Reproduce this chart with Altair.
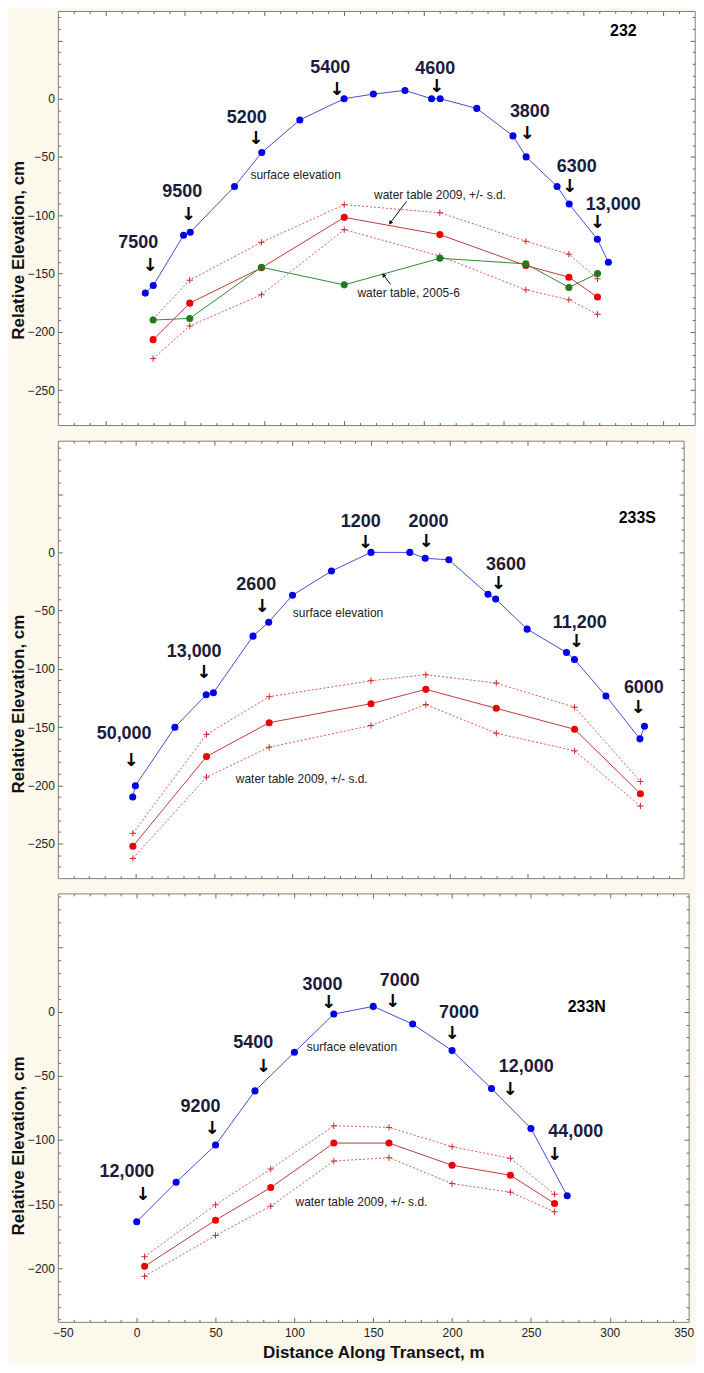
import altair as alt
import pandas as pd

# ---------------- Panel 232 ----------------
p1_surf_x = [25.1, 30.1, 49.1, 53.3, 81.1, 98.2, 122.1, 149.9, 168.3, 188.1, 204.8, 210.2, 233.2, 255.9, 264.2, 283.6, 291.2, 308.9, 315.8]
p1_surf_y = [-166.8, -160.2, -117.2, -114.6, -75.3, -46.2, -18.2, 0.0, 4.0, 7.1, 0.0, 0.0, -8.3, -31.9, -49.9, -75.3, -90.4, -120.6, -140.3]
p1_wt_x = [30, 53, 98, 150, 210, 264, 291, 309]
p1_wt_y = [-206.7, -175.4, -145.1, -101.8, -116.6, -143.1, -153.1, -170.2]
p1_wt_hi = [-189.0, -155.7, -123.2, -90.9, -97.8, -122.3, -133.4, -154.5]
p1_wt_lo = [-223.0, -195.0, -168.2, -112.3, -135.0, -164.0, -172.5, -185.0]
p1_wt06_y = [-189.9, -188.5, -144.6, -159.7, -136.9, -141.7, -161.9, -150.0]
p1_num_t = ["7500", "9500", "5200", "5400", "4600", "3800", "6300", "13,000"]
p1_num_x = [20.7, 48.3, 88.8, 141.2, 207.1, 266.5, 296.0, 318.9]
p1_num_y = [-123.8, -80.4, -16.8, 26.3, 25.9, -11.4, -58.2, -91.2]
p1_arr_x = [28.0, 52.0, 94.4, 145.3, 207.9, 264.7, 291.4, 308.9]
p1_arr_y = [-142.4, -98.8, -33.4, 8.3, 10.9, -29.5, -74.7, -106.1]
p1_lab_t = ["surface elevation", "water table 2009, +/- s.d.", "water table, 2005-6"]
p1_lab_x = [91.1, 168.7, 158.3]
p1_lab_y = [-65.3, -82.4, -166.8]
p1_call_x = [189.1, 179.1]
p1_call_y = [-88.1, -159.4]
p1_call_x2 = [179.1, 174.9]
p1_call_y2 = [-106.1, -151.7]
p1_call_ang = [217, 323]

# ---------------- Panel 233S ----------------
p2_surf_x = [-2.1, -0.4, 24.8, 44.8, 49.4, 74.7, 84.7, 99.9, 124.8, 150.0, 174.8, 184.6, 199.7, 224.7, 229.6, 249.7, 274.8, 279.9, 300.0, 321.7, 324.6]
p2_surf_y = [-210.1, -200.3, -150.2, -122.2, -120.5, -71.9, -59.9, -36.8, -16.0, 0.0, 0.0, -5.1, -6.3, -36.0, -40.0, -65.9, -85.9, -91.9, -123.3, -160.1, -149.3]
p2_wt_x = [-2, 45, 85, 150, 185, 230, 280, 322]
p2_wt_y = [-252.3, -175.3, -146.2, -129.9, -117.6, -133.9, -151.9, -207.2]
p2_wt_hi = [-241.2, -156.4, -123.9, -110.2, -105.0, -112.2, -133.0, -196.7]
p2_wt_lo = [-262.8, -193.0, -167.3, -148.7, -130.7, -155.3, -170.4, -217.8]
p2_num_t = ["50,000", "13,000", "2600", "1200", "2000", "3600", "11,200", "6000"]
p2_num_x = [-7.6, 37.1, 76.8, 143.5, 186.7, 236.2, 283.3, 324.2]
p2_num_y = [-155.6, -85.6, -27.7, 25.7, 26.2, -10.9, -60.8, -116.5]
p2_arr_x = [-3.2, 43.3, 80.4, 146.4, 185.2, 231.3, 281.1, 320.4]
p2_arr_y = [-178.4, -103.1, -46.3, 8.6, 9.4, -26.6, -75.9, -132.7]
p2_lab_t = ["surface elevation", "water table 2009, +/- s.d."]
p2_lab_x = [100.1, 63.7]
p2_lab_y = [-52.2, -194.4]

# ---------------- Panel 233N ----------------
p3_surf_x = [0, 25, 50, 75, 100, 125, 150, 175, 200, 225, 250, 273]
p3_surf_y = [-163.8, -133.0, -103.9, -61.7, -31.6, -1.8, 4.2, -9.6, -30.3, -59.9, -91.0, -143.5]
p3_wt_x = [5, 50, 85, 125, 160, 200, 237, 265]
p3_wt_y = [-198.5, -162.5, -137.1, -102.4, -102.4, -119.7, -127.5, -149.5]
p3_wt_hi = [-191.0, -150.5, -122.6, -88.9, -90.2, -105.2, -114.3, -142.3]
p3_wt_lo = [-206.3, -174.4, -151.6, -116.4, -113.8, -134.0, -140.7, -156.0]
p3_num_t = ["12,000", "9200", "5400", "3000", "7000", "7000", "12,000", "44,000"]
p3_num_x = [-6.2, 40.5, 73.9, 117.8, 166.8, 204.4, 247.0, 278.4]
p3_num_y = [-125.2, -74.6, -24.1, 20.8, 24.1, -1.3, -43.2, -93.8]
p3_arr_x = [3.8, 47.8, 80.2, 121.6, 162.2, 200.0, 236.8, 265.0]
p3_arr_y = [-141.8, -90.7, -42.0, 7.8, 8.6, -16.6, -60.6, -110.7]
p3_lab_t = ["surface elevation", "water table 2009, +/- s.d."]
p3_lab_x = [107.8, 100.7]
p3_lab_y = [-27.7, -148.2]

x_tick_labels = [-50, 0, 50, 100, 150, 200, 250, 300, 350]

BLUE_LINE = "#4a4ad2"
BLUE_PT = "#0000e6"
RED_LINE = "#c23a3a"
RED_PT = "#ee0000"
RED_SD = "#dd5a5a"
RED_CROSS = "#d02828"
GREEN_LINE = "#2e8b2e"
GREEN_PT = "#1e7b1e"
NAVY = "#1b1b3b"
FONT = "Liberation Sans"
CROSS = "M-1,0H1M0,-1V1"


def panel(W, H, xdom, ydom, surf_x, surf_y, wt_x, wt_y, wt_hi, wt_lo,
          num_t, num_x, num_y, arr_x, arr_y, pname, px, py,
          lab_t, lab_x, lab_y, yvals, title_y, label_pad, title_pad,
          show_x=False, wt06_y=None, call=None):
    xs = alt.Scale(domain=xdom, nice=False, zero=False)
    ys = alt.Scale(domain=ydom, nice=False, zero=False)

    def X(axis=None, f="x"):
        return alt.X(f + ":Q", scale=xs, axis=axis)

    def Y(axis=None, f="y"):
        return alt.Y(f + ":Q", scale=ys, axis=axis)

    yaxis = alt.Axis(values=yvals, ticks=False, tickSize=0, domain=False, grid=False,
                     title="Relative Elevation, cm", labelPadding=label_pad,
                     titlePadding=title_pad, titleY=title_y, minExtent=0)
    xaxis = None
    if show_x:
        xaxis = alt.Axis(values=x_tick_labels, ticks=False, tickSize=0, domain=False,
                         grid=False, title="Distance Along Transect, m",
                         labelFlush=True, labelFlushOffset=5,
                         labelPadding=5.5, titlePadding=6, titleFontSize=17,
                         minExtent=0)

    surf = pd.DataFrame({"x": surf_x, "y": surf_y})
    wt = pd.DataFrame({"x": wt_x, "y": wt_y})
    sd = pd.DataFrame({"x": wt_x + wt_x, "y": wt_hi + wt_lo,
                       "band": ["hi"] * len(wt_x) + ["lo"] * len(wt_x)})
    nums = pd.DataFrame({"x": num_x, "y": num_y, "t": num_t})
    arrs = pd.DataFrame({"x": arr_x, "y": arr_y, "t": ["\u2193"] * len(arr_x)})
    labs = pd.DataFrame({"x": lab_x, "y": lab_y, "t": lab_t})
    pn = pd.DataFrame({"x": [px], "y": [py], "t": [pname]})

    layers = [
        alt.Chart(surf).mark_line(color=BLUE_LINE, strokeWidth=1).encode(x=X(xaxis), y=Y(yaxis)),
        alt.Chart(sd).mark_line(color=RED_SD, strokeWidth=1, strokeDash=[2, 2]).encode(
            x=X(), y=Y(), detail="band:N"),
        alt.Chart(sd).mark_point(shape=CROSS, filled=False, color=RED_CROSS, size=40,
                                 strokeWidth=1, opacity=1).encode(x=X(), y=Y()),
        alt.Chart(wt).mark_line(color=RED_LINE, strokeWidth=1).encode(x=X(), y=Y()),
        alt.Chart(wt).mark_circle(color=RED_PT, size=50, opacity=1).encode(x=X(), y=Y()),
    ]
    if wt06_y is not None:
        g = pd.DataFrame({"x": wt_x, "y": wt06_y})
        layers += [
            alt.Chart(g).mark_line(color=GREEN_LINE, strokeWidth=1).encode(x=X(), y=Y()),
            alt.Chart(g).mark_circle(color=GREEN_PT, size=50, opacity=1).encode(x=X(), y=Y()),
        ]
    layers.append(alt.Chart(surf).mark_circle(color=BLUE_PT, size=50, opacity=1).encode(x=X(), y=Y()))
    if call is not None:
        cd = pd.DataFrame({"x": call[0], "y": call[1], "x2": call[2], "y2": call[3], "a": call[4]})
        layers += [
            alt.Chart(cd).mark_rule(color="#111", strokeWidth=1).encode(
                x=X(), y=Y(), x2="x2:Q", y2="y2:Q"),
            alt.Chart(cd).mark_point(shape="triangle", filled=True, color="#111", size=22,
                                     opacity=1).encode(
                x=X(f="x2"), y=Y(f="y2"), angle=alt.Angle("a:Q", scale=None)),
        ]
    layers += [
        alt.Chart(nums).mark_text(font=FONT, fontSize=18, fontWeight="bold", color=NAVY,
                                  align="center", baseline="middle").encode(x=X(), y=Y(), text="t:N"),
        alt.Chart(arrs).mark_text(font="DejaVu Sans", fontSize=18, fontWeight="bold", color="#000",
                                  align="center", baseline="middle", dy=1).encode(x=X(), y=Y(), text="t:N"),
        alt.Chart(labs).mark_text(font=FONT, fontSize=12, color="#222",
                                  align="left", baseline="middle").encode(x=X(), y=Y(), text="t:N"),
        alt.Chart(pn).mark_text(font=FONT, fontSize=16, fontWeight="bold", color="#000",
                                align="center", baseline="middle").encode(x=X(), y=Y(), text="t:N"),
    ]

    # inward tick marks on all four sides of the frame (only values inside the domain)
    x_major = [v for v in range(-50, 351, 50) if xdom[0] < v < xdom[1]]
    x_minor = [v for v in range(-60, 381, 10) if xdom[0] < v < xdom[1] and v % 50 != 0]
    y_major = [v for v in range(-300, 121, 50) if ydom[0] < v < ydom[1]]
    y_minor = [v for v in range(-300, 121, 10) if ydom[0] < v < ydom[1] and v % 50 != 0]
    for xv, yv, ts in ((x_major, y_major, 4.5), (x_minor, y_minor, 2.5)):
        common = dict(labels=False, domain=False, grid=False, ticks=True, tickSize=ts,
                      tickColor="#666", tickWidth=1, title=None, minExtent=0)
        layers += [
            alt.Chart(surf).mark_point(opacity=0).encode(
                x=X(alt.Axis(orient="top", offset=-H, values=xv, **common)),
                y=Y(alt.Axis(orient="right", offset=-W, values=yv, **common))),
            alt.Chart(surf).mark_point(opacity=0).encode(
                x=X(alt.Axis(orient="bottom", offset=-H, values=xv, **common)),
                y=Y(alt.Axis(orient="left", offset=-W, values=yv, **common))),
        ]
    return alt.layer(*layers).resolve_axis(x="independent", y="independent").properties(
        width=W, height=H)


yv1 = [0, -50, -100, -150, -200, -250]
yv3 = [0, -50, -100, -150, -200]

c1 = panel(638.7, 415.3, [-29.8, 370.0], [-280.0, 75.3],
           p1_surf_x, p1_surf_y, p1_wt_x, p1_wt_y, p1_wt_hi, p1_wt_lo,
           p1_num_t, p1_num_x, p1_num_y, p1_arr_x, p1_arr_y, "232", 325.2, 57.9,
           p1_lab_t, p1_lab_x, p1_lab_y, yv1, 239.5, 3.5, 0,
           wt06_y=p1_wt06_y,
           call=(p1_call_x, p1_call_y, p1_call_x2, p1_call_y2, p1_call_ang))
c2 = panel(627.6, 438.7, [-49.9, 349.6], [-279.7, 95.9],
           p2_surf_x, p2_surf_y, p2_wt_x, p2_wt_y, p2_wt_hi, p2_wt_lo,
           p2_num_t, p2_num_x, p2_num_y, p2_arr_x, p2_arr_y, "233S", 320.0, 29.1,
           p2_lab_t, p2_lab_x, p2_lab_y, yv1, 263.7, 3.5, 0)
c3 = panel(632.6, 429.7, [-50.0, 350.0], [-241.8, 92.3],
           p3_surf_x, p3_surf_y, p3_wt_x, p3_wt_y, p3_wt_hi, p3_wt_lo,
           p3_num_t, p3_num_x, p3_num_y, p3_arr_x, p3_arr_y, "233N", 285.4, 3.4,
           p3_lab_t, p3_lab_x, p3_lab_y, yv3, 252.8, 3.5, 0, show_x=True)

chart = alt.vconcat(c1, c2, c3, spacing=13).properties(
    padding={"left": 0.01, "top": 0.01, "right": 0.01, "bottom": 0.01},
    autosize=alt.AutoSizeParams(type="pad"),
    background="#fcf8ec",
).configure(
    padding={"left": 0.01, "top": 0.01, "right": 0.01, "bottom": 0.01},
).configure_view(
    stroke="#7f7f7f", strokeWidth=1, fill="white"
).configure_axis(
    labelFont=FONT, labelFontSize=12, labelColor="#222",
    titleFont=FONT, titleFontSize=17, titleFontWeight="bold", titleColor="#111",
)

chart.save("out.html", embed_options={"renderer": "svg", "actions": False, "padding": 0})
